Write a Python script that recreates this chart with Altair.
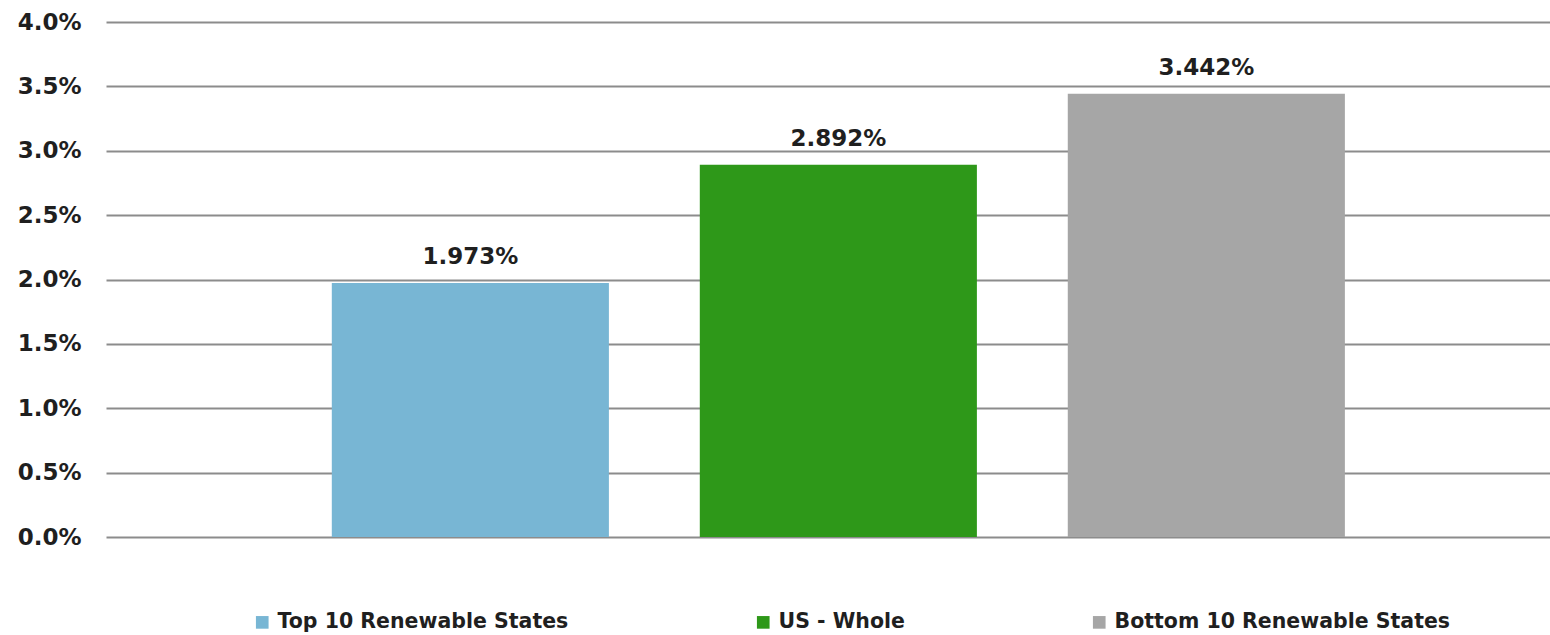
import altair as alt
import pandas as pd

categories = ["Top 10 Renewable States", "US - Whole", "Bottom 10 Renewable States"]
values = [0.01973, 0.02892, 0.03442]
colors = ["#78B6D4", "#2E9819", "#A6A6A6"]
y_ticks = [0.0, 0.005, 0.01, 0.015, 0.02, 0.025, 0.03, 0.035, 0.04]

df = pd.DataFrame({"category": categories, "value": values})

FONT = "DejaVu Sans"
TXT = "#1f1f1f"

base = alt.Chart(df).encode(
    x=alt.X(
        "category:N",
        sort=categories,
        axis=None,
        scale=alt.Scale(paddingInner=0.247, paddingOuter=0.5855, align=0.524),
    ),
    y=alt.Y(
        "value:Q",
        scale=alt.Scale(domain=[0, 0.04], nice=False),
        axis=alt.Axis(
            values=y_ticks,
            format=".1%",
            title=None,
            domain=False,
            ticks=False,
            labelPadding=25,
            labelFont=FONT,
            labelFontWeight="bold",
            labelFontSize=23,
            labelColor=TXT,
            gridColor="#8c8c8c",
            gridWidth=2,
        ),
    ),
)

bars = base.mark_bar().encode(
    color=alt.Color(
        "category:N",
        sort=categories,
        scale=alt.Scale(domain=categories, range=colors),
        legend=alt.Legend(
            title=None,
            orient="none",
            legendX=146,
            legendY=590,
            direction="horizontal",
            symbolType="square",
            symbolSize=160,
            symbolStrokeWidth=0,
            symbolOpacity=1,
            labelFont=FONT,
            labelFontWeight="bold",
            labelFontSize=20.5,
            labelColor=TXT,
            labelOffset=5,
            columnPadding=184,
            labelLimit=500,
        ),
    )
)

text = base.mark_text(
    dy=-19,
    baseline="alphabetic",
    align="center",
    font=FONT,
    fontWeight="bold",
    fontSize=23,
    color=TXT,
).encode(text=alt.Text("value:Q", format=".3%"))

chart = (
    (bars + text)
    .properties(
        width=1444,
        height=515,
        autosize="none",
        padding={"left": 106, "top": 22, "right": 0, "bottom": 98},
    )
    .configure_view(stroke=None)
)

chart.save("out.html", embed_options={"renderer": "svg", "actions": False})
